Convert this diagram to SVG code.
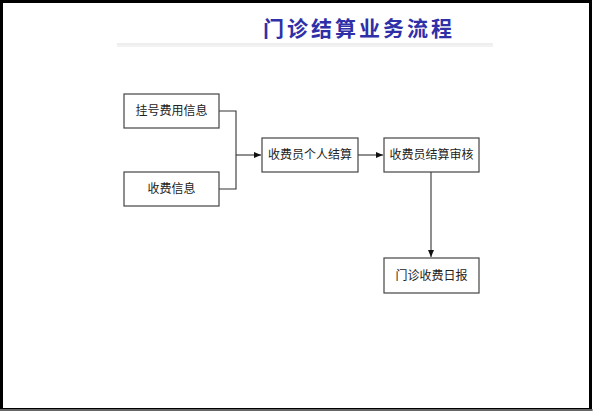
<svg xmlns="http://www.w3.org/2000/svg" width="593" height="413" viewBox="0 0 593 413">
<defs>
<style>
.box{fill:#fff;stroke:#444;stroke-width:1.2}
.lbl{font-family:"Noto Sans CJK SC","Liberation Sans",sans-serif;font-size:12px;fill:#222;text-anchor:middle}
.ln{fill:none;stroke:#333;stroke-width:1.1}
</style>
<marker id="ah" markerWidth="8" markerHeight="8" refX="7" refY="4" orient="auto" markerUnits="userSpaceOnUse">
<path d="M0,1 L7,4 L0,7 Z" fill="#111"/>
</marker>
</defs>
<rect x="0" y="0" width="593" height="413" fill="#fff"/>
<rect x="1.5" y="1.5" width="589" height="408" fill="none" stroke="#000" stroke-width="3"/>
<line x1="0" y1="410" x2="593" y2="410" stroke="#888" stroke-width="1.5"/>
<text x="359" y="36" font-family="'Noto Sans CJK SC',sans-serif" font-size="21" font-weight="bold" fill="#2f30a8" text-anchor="middle" letter-spacing="3">门诊结算业务流程</text>
<line x1="117" y1="44" x2="493" y2="44" stroke="#ddd" stroke-width="1"/>
<line x1="117" y1="46" x2="493" y2="46" stroke="#e6e6e6" stroke-width="1"/>
<g id="connectors">
<path class="ln" d="M219,111 H236 V189 H219"/>
<path class="ln" d="M236,155 H261" marker-end="url(#ah)"/>
<path class="ln" d="M358,155 H383" marker-end="url(#ah)"/>
<path class="ln" d="M431,172 V257" marker-end="url(#ah)"/>
</g>
<g id="n1"><rect class="box" x="124" y="94" width="95" height="34"/><text class="lbl" x="171.5" y="115">挂号费用信息</text></g>
<g id="n2"><rect class="box" x="124" y="172" width="95" height="34"/><text class="lbl" x="171.5" y="193">收费信息</text></g>
<g id="n3"><rect class="box" x="262" y="138" width="96" height="34"/><text class="lbl" x="310" y="159">收费员个人结算</text></g>
<g id="n4"><rect class="box" x="384" y="138" width="95" height="34"/><text class="lbl" x="431.5" y="159">收费员结算审核</text></g>
<g id="n5"><rect class="box" x="384" y="258" width="95" height="35"/><text class="lbl" x="431.5" y="280">门诊收费日报</text></g>
</svg>
